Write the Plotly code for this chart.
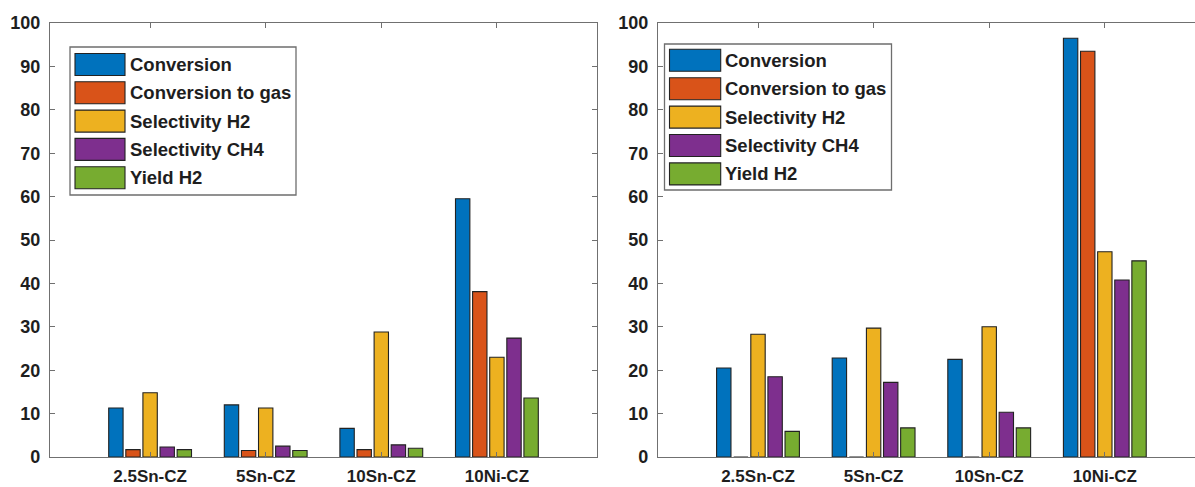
import plotly.graph_objects as go

W, H = 1195, 487

categories = ["2.5Sn-CZ", "5Sn-CZ", "10Sn-CZ", "10Ni-CZ"]
series_names = ["Conversion", "Conversion to gas", "Selectivity H2",
                "Selectivity CH4", "Yield H2"]
colors = ["#0072BD", "#D95319", "#EDB120", "#7E2F8E", "#77AC30"]

# Left panel
left_conversion = [11.3, 12.0, 6.6, 59.5]
left_conversion_gas = [1.7, 1.5, 1.7, 38.1]
left_selectivity_h2 = [14.8, 11.3, 28.8, 23.0]
left_selectivity_ch4 = [2.3, 2.5, 2.8, 27.4]
left_yield_h2 = [1.7, 1.5, 2.0, 13.6]

# Right panel
right_conversion = [20.5, 22.8, 22.5, 96.5]
right_conversion_gas = [0.0, 0.0, 0.0, 93.5]
right_selectivity_h2 = [28.3, 29.7, 30.0, 47.3]
right_selectivity_ch4 = [18.5, 17.2, 10.3, 40.8]
right_yield_h2 = [5.9, 6.7, 6.7, 45.2]

y_ticks = list(range(0, 101, 10))

left_series = [left_conversion, left_conversion_gas, left_selectivity_h2,
               left_selectivity_ch4, left_yield_h2]
right_series = [right_conversion, right_conversion_gas, right_selectivity_h2,
                right_selectivity_ch4, right_yield_h2]

FONT = "Liberation Sans, Arial, sans-serif"
TEXT = "#1e1e1e"
AXIS = "#707070"
FS_YTICK = 18
FS_XTICK = 17
FS_LEG = 18.5

fig = go.Figure()

for vals, name, col in zip(left_series, series_names, colors):
    fig.add_trace(go.Bar(x=categories, y=vals, name=name, xaxis="x", yaxis="y",
                         marker=dict(color=col, line=dict(color="#222222", width=1.1)),
                         showlegend=False, offsetgroup=name))
for vals, name, col in zip(right_series, series_names, colors):
    fig.add_trace(go.Bar(x=categories, y=vals, name=name, xaxis="x2", yaxis="y2",
                         marker=dict(color=col, line=dict(color="#222222", width=1.1)),
                         showlegend=False, offsetgroup=name))


def px_x(p):
    return p / W


def px_y(p):
    return 1 - p / H


# plot areas in pixels
Y_TOP, Y_BOT = 23, 457
LX0, LX1 = 50, 597
RX0 = 658

common_x = dict(type="category", showline=True, linecolor=AXIS, linewidth=1.3,
                ticks="inside", ticklen=5, tickcolor=AXIS, tickwidth=1.2,
                mirror="ticks",
                tickfont=dict(family=FONT, size=FS_XTICK, color=TEXT, weight="bold"),
                showgrid=False, zeroline=False, ticklabelstandoff=3, automargin=False)
common_y = dict(range=[0, 100], tickvals=y_ticks, showline=True, linecolor=AXIS,
                linewidth=1.3, ticks="inside", ticklen=5, tickcolor=AXIS,
                tickwidth=1.2,
                tickfont=dict(family=FONT, size=FS_YTICK, color=TEXT, weight="bold"),
                showgrid=False, zeroline=False, ticklabelstandoff=5, automargin=False)

fig.update_layout(
    width=W, height=H,
    margin=dict(l=0, r=0, t=0, b=0),
    paper_bgcolor="white", plot_bgcolor="white",
    barmode="group", bargap=0.26, bargroupgap=0.16,
    showlegend=False,
    xaxis=dict(common_x, domain=[px_x(LX0), px_x(LX1)], range=[-0.866, 3.866],
               anchor="y"),
    yaxis=dict(common_y, domain=[px_y(Y_BOT), px_y(Y_TOP)], anchor="x",
               mirror="ticks"),
    xaxis2=dict(common_x, domain=[px_x(RX0), 1.0], range=[-0.865, 3.78],
                anchor="y2"),
    yaxis2=dict(common_y, domain=[px_y(Y_BOT), px_y(Y_TOP)], anchor="x2",
                mirror=False),
)

# Boxed legends drawn with wide swatches
legends = [
    dict(box=(70, 47, 296, 195), sw_x=(75, 125), first=64.5, pitch=28.3, text_x=128),
    dict(box=(664.5, 44, 891.5, 190), sw_x=(669.5, 720.7), first=60.3, pitch=28.4,
         text_x=723),
]
for lg in legends:
    x0, y0, x1, y1 = lg["box"]
    fig.add_shape(type="rect", xref="paper", yref="paper",
                  x0=px_x(x0), x1=px_x(x1), y0=px_y(y1), y1=px_y(y0),
                  line=dict(color="#6e6e6e", width=1.3), fillcolor="white", layer="above")
    for i, (name, col) in enumerate(zip(series_names, colors)):
        cy = lg["first"] + i * lg["pitch"]
        fig.add_shape(type="rect", xref="paper", yref="paper",
                      x0=px_x(lg["sw_x"][0]), x1=px_x(lg["sw_x"][1]),
                      y0=px_y(cy + 11), y1=px_y(cy - 11),
                      line=dict(color="#222222", width=1.1), fillcolor=col,
                      layer="above")
        fig.add_annotation(xref="paper", yref="paper", x=px_x(lg["text_x"]),
                           y=px_y(cy), text=name, showarrow=False,
                           xanchor="left", yanchor="middle",
                           font=dict(family=FONT, size=FS_LEG, color=TEXT,
                                     weight="bold"))

fig.write_html("out.html")
